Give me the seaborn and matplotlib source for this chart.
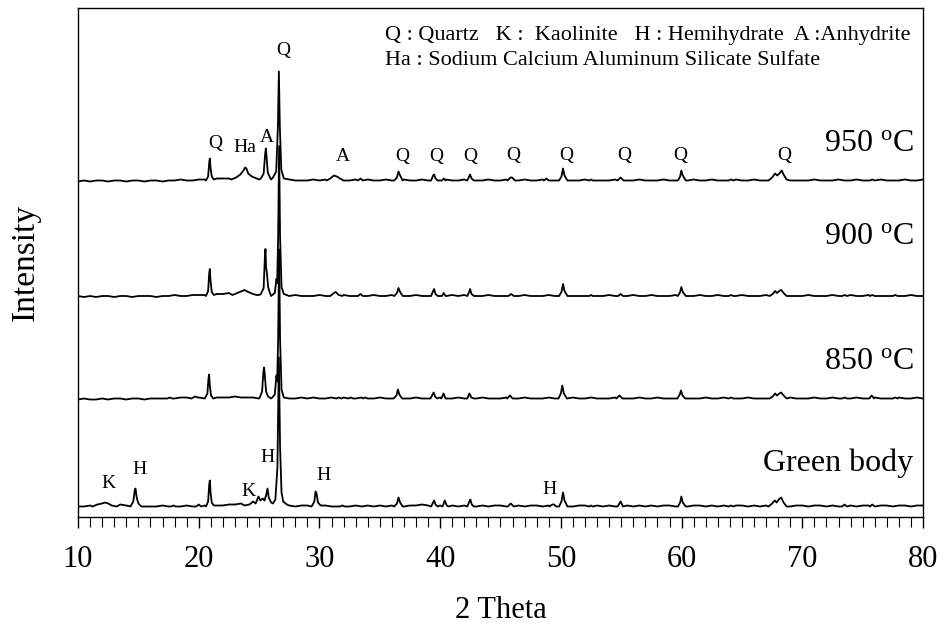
import numpy as np
import pandas as pd
import seaborn as sns
import matplotlib
matplotlib.use("Agg")
import matplotlib.pyplot as plt
from matplotlib.ticker import MultipleLocator

# ---------------------------------------------------------------
# XRD patterns (2-theta in degrees, intensity in arbitrary counts)
# Background level sampled every 0.5 deg from 10 to 80 deg
# ---------------------------------------------------------------
grid_step = 0.5
grid_start = 10.0

bg_950 = [0, 1, 0, 1, 1, 0, 1, 1, 0, 1, 1, 0, 1, 1, 0, 1, 1, 2, 1, 1,
          2, 2, 2, 3, 3, 3, 4, 4, 3, 3, 2, 2, 2, 2, 1, 2, 1, 1, 1, 2,
          1, 2, 1, 1, 2, 1, 2, 1, 2, 1, 1, 2, 1, 1, 2, 1, 1, 2, 1, 1,
          1, 2, 1, 1, 2, 1, 1, 1, 2, 1, 1, 2, 1, 1, 2, 1, 1, 2, 2, 1,
          1, 2, 1, 1, 2, 1, 1, 1, 1, 2, 1, 1, 1, 2, 1, 1, 1, 2, 1, 1,
          1, 1, 2, 1, 1, 2, 1, 1, 1, 2, 1, 1, 2, 1, 1, 2, 1, 1, 1, 1,
          1, 1, 2, 1, 1, 1, 2, 1, 1, 2, 1, 1, 1, 2, 1, 1, 1, 2, 1, 1, 2]

bg_900 = [1, 0, 1, 0, 1, 1, 0, 1, 1, 0, 1, 1, 1, 0, 1, 1, 2, 1, 1, 2,
          2, 2, 2, 3, 3, 4, 4, 4, 3, 3, 2, 2, 1, 2, 1, 1, 2, 1, 1, 1,
          2, 1, 1, 1, 2, 1, 1, 2, 1, 2, 1, 1, 2, 1, 1, 1, 2, 1, 1, 2,
          1, 1, 2, 1, 2, 1, 1, 1, 2, 1, 1, 1, 2, 1, 2, 1, 1, 1, 2, 1,
          1, 2, 1, 1, 1, 2, 1, 1, 2, 1, 1, 1, 2, 1, 1, 2, 1, 1, 1, 2,
          1, 1, 1, 2, 1, 1, 2, 1, 1, 1, 2, 1, 1, 1, 2, 1, 1, 2, 1, 1,
          1, 2, 1, 1, 1, 2, 1, 1, 2, 1, 1, 2, 1, 1, 1, 2, 1, 1, 2, 1, 1]

bg_850 = [0, 1, 0, 0, 1, 0, 1, 1, 0, 1, 1, 0, 1, 1, 1, 2, 1, 2, 2, 2,
          2, 1, 2, 2, 2, 2, 3, 2, 2, 2, 1, 2, 1, 1, 2, 1, 1, 2, 1, 2,
          1, 1, 2, 1, 2, 2, 1, 2, 1, 1, 2, 1, 1, 2, 1, 1, 2, 1, 1, 1,
          2, 1, 1, 2, 1, 1, 1, 2, 1, 1, 1, 2, 1, 1, 2, 1, 1, 1, 2, 1,
          1, 1, 2, 1, 1, 2, 1, 1, 1, 2, 1, 1, 1, 2, 1, 1, 2, 1, 1, 1,
          2, 1, 1, 1, 2, 1, 1, 2, 1, 1, 1, 2, 1, 1, 1, 2, 1, 1, 2, 1,
          1, 1, 2, 1, 1, 2, 1, 1, 1, 2, 1, 1, 2, 1, 1, 1, 2, 1, 1, 2, 1]

bg_green = [1, 1, 2, 1, 2, 2, 2, 3, 2, 2, 2, 1, 1, 1, 2, 1, 1, 1, 2, 1,
            1, 2, 2, 2, 2, 3, 3, 4, 4, 4, 3, 3, 2, 2, 2, 2, 1, 2, 2, 1,
            1, 2, 1, 1, 2, 1, 2, 1, 2, 1, 2, 1, 2, 2, 1, 2, 2, 3, 2, 2,
            2, 1, 2, 1, 2, 2, 1, 2, 1, 2, 2, 1, 2, 2, 1, 2, 2, 1, 2, 2,
            1, 2, 1, 2, 2, 1, 2, 1, 2, 1, 2, 2, 1, 2, 1, 2, 1, 2, 2, 1,
            2, 1, 2, 2, 1, 2, 1, 2, 1, 2, 2, 1, 2, 1, 2, 2, 1, 2, 1, 2,
            2, 1, 2, 2, 1, 2, 1, 2, 2, 1, 2, 2, 1, 2, 2, 1, 2, 2, 1, 2, 2]

# Reflection profiles: each run is a list of (2-theta, counts) points
peaks_950 = [
    [(20.6, 1), (20.78, 5), (20.87, 19), (20.92, 23), (20.98, 14), (21.08, 5), (21.25, 2)],
    [(22.7, 2), (23.1, 4), (23.45, 7), (23.7, 11), (23.85, 14), (23.95, 13), (24.1, 8), (24.4, 5), (24.8, 3)],
    [(25.15, 3), (25.38, 8), (25.5, 27), (25.56, 33), (25.62, 25), (25.72, 9), (25.9, 4)],
    [(26.15, 4), (26.42, 10), (26.56, 55), (26.64, 110), (26.72, 55), (26.84, 12), (27.05, 3)],
    [(30.6, 1), (30.9, 3), (31.2, 6), (31.45, 5), (31.7, 3), (32.0, 1)],
    [(33.2, 1), (33.4, 3), (33.6, 1)],
    [(36.2, 1), (36.42, 4), (36.55, 10), (36.68, 6), (36.9, 1)],
    [(39.25, 1), (39.42, 6), (39.5, 7), (39.62, 3), (39.8, 1)],
    [(40.15, 1), (40.3, 3), (40.45, 1)],
    [(42.25, 1), (42.4, 5), (42.48, 7), (42.6, 3), (42.8, 1)],
    [(45.6, 1), (45.82, 4), (45.95, 4), (46.2, 1)],
    [(48.6, 1), (48.8, 3), (49.0, 1)],
    [(49.85, 1), (50.05, 5), (50.18, 13), (50.3, 6), (50.55, 1)],
    [(52.35, 1), (52.5, 2), (52.65, 1)],
    [(54.7, 1), (54.95, 4), (55.2, 1)],
    [(59.7, 1), (59.88, 5), (59.98, 11), (60.1, 6), (60.35, 1)],
    [(63.9, 1), (64.1, 2), (64.3, 1)],
    [(67.2, 1), (67.5, 4), (67.75, 8), (67.92, 6), (68.1, 8), (68.3, 11), (68.45, 7), (68.7, 2), (69.0, 1)],
    [(75.6, 1), (75.8, 2), (76.0, 1)],
]

peaks_900 = [
    [(20.6, 1), (20.78, 6), (20.87, 24), (20.92, 28), (20.98, 16), (21.08, 5), (21.25, 2)],
    [(22.8, 2), (23.2, 4), (23.6, 6), (23.8, 7), (24.1, 5), (24.5, 3), (24.8, 2)],
    [(25.15, 3), (25.38, 9), (25.48, 40), (25.53, 48), (25.58, 30), (25.65, 24), (25.75, 10), (25.9, 4)],
    [(26.1, 2), (26.3, 4), (26.44, 18), (26.5, 14), (26.58, 60), (26.66, 151), (26.74, 60), (26.86, 10), (27.05, 3)],
    [(30.9, 1), (31.2, 4), (31.35, 5), (31.6, 2), (31.9, 1)],
    [(33.2, 1), (33.4, 3), (33.6, 1)],
    [(36.2, 1), (36.42, 4), (36.55, 9), (36.68, 5), (36.9, 1)],
    [(39.25, 1), (39.42, 6), (39.5, 8), (39.62, 3), (39.8, 1)],
    [(40.15, 1), (40.3, 4), (40.45, 1)],
    [(42.25, 1), (42.4, 5), (42.48, 8), (42.6, 3), (42.8, 1)],
    [(45.65, 1), (45.88, 3), (46.1, 1)],
    [(49.85, 1), (50.05, 5), (50.18, 13), (50.3, 6), (50.55, 1)],
    [(52.35, 1), (52.5, 2), (52.65, 1)],
    [(54.75, 1), (54.95, 3), (55.15, 1)],
    [(59.7, 1), (59.88, 5), (59.98, 10), (60.1, 5), (60.35, 1)],
    [(63.9, 1), (64.1, 2), (64.3, 1)],
    [(67.3, 1), (67.55, 3), (67.75, 6), (67.9, 4), (68.1, 6), (68.25, 7), (68.45, 4), (68.7, 1)],
    [(73.3, 1), (73.5, 2), (73.7, 1)],
    [(75.6, 1), (75.8, 2), (76.0, 1)],
    [(77.5, 1), (77.7, 2), (77.9, 1)],
]

peaks_850 = [
    [(17.4, 1), (17.6, 2), (17.8, 1)],
    [(19.4, 1), (19.7, 3), (19.9, 2)],
    [(20.55, 2), (20.72, 6), (20.81, 21), (20.86, 25), (20.92, 14), (21.02, 4), (21.2, 1)],
    [(25.05, 2), (25.25, 8), (25.36, 28), (25.42, 32), (25.48, 24), (25.58, 8), (25.75, 3)],
    [(26.1, 2), (26.3, 5), (26.44, 24), (26.5, 18), (26.58, 60), (26.66, 150), (26.74, 60), (26.86, 10), (27.05, 2)],
    [(31.4, 1), (31.6, 2), (31.8, 1)],
    [(32.4, 1), (32.6, 2), (32.8, 1)],
    [(33.6, 1), (33.8, 2), (34.0, 1)],
    [(36.15, 1), (36.38, 4), (36.5, 10), (36.62, 5), (36.85, 1)],
    [(39.2, 1), (39.38, 5), (39.46, 7), (39.58, 3), (39.75, 1)],
    [(40.1, 1), (40.28, 6), (40.45, 1)],
    [(42.25, 1), (42.42, 6), (42.58, 2), (42.8, 1)],
    [(45.55, 1), (45.78, 4), (46.0, 1)],
    [(49.8, 1), (50.0, 6), (50.12, 14), (50.25, 6), (50.5, 1)],
    [(54.6, 1), (54.85, 4), (55.1, 1)],
    [(59.65, 1), (59.85, 5), (59.95, 9), (60.08, 4), (60.3, 1)],
    [(63.9, 1), (64.1, 2), (64.3, 1)],
    [(67.3, 1), (67.55, 3), (67.75, 6), (67.9, 4), (68.1, 6), (68.25, 7), (68.45, 4), (68.7, 1)],
    [(73.3, 1), (73.5, 2), (73.7, 1)],
    [(75.55, 1), (75.75, 4), (75.95, 1)],
    [(77.5, 1), (77.7, 2), (77.9, 1)],
]

peaks_green = [
    [(11.2, 1), (11.6, 3), (12.0, 4), (12.25, 5), (12.5, 4), (12.8, 2), (13.2, 1)],
    [(14.35, 1), (14.58, 6), (14.7, 17), (14.76, 19), (14.86, 10), (15.0, 4), (15.25, 1)],
    [(17.7, 1), (17.9, 2), (18.1, 1)],
    [(19.8, 1), (20.0, 3), (20.2, 1)],
    [(20.6, 1), (20.78, 6), (20.87, 23), (20.92, 27), (20.98, 15), (21.08, 5), (21.25, 2)],
    [(23.8, 2), (24.2, 3), (24.5, 6), (24.72, 4), (24.95, 11), (25.1, 7), (25.3, 9), (25.45, 7),
     (25.6, 13), (25.7, 19), (25.8, 10), (26.0, 5), (26.15, 4), (26.35, 8), (26.52, 40),
     (26.64, 150), (26.74, 60), (26.86, 15), (27.0, 6), (27.3, 3)],
    [(29.35, 1), (29.58, 6), (29.68, 16), (29.76, 14), (29.88, 5), (30.1, 2)],
    [(31.7, 1), (31.9, 2), (32.1, 1)],
    [(36.2, 1), (36.42, 4), (36.55, 10), (36.68, 5), (36.9, 1)],
    [(39.25, 1), (39.42, 5), (39.5, 7), (39.62, 3), (39.8, 1)],
    [(40.2, 1), (40.38, 7), (40.55, 2), (40.7, 1)],
    [(42.25, 1), (42.42, 6), (42.5, 8), (42.62, 3), (42.8, 1)],
    [(45.6, 1), (45.85, 4), (46.1, 1)],
    [(49.05, 1), (49.3, 3), (49.45, 3), (49.6, 1)],
    [(49.85, 1), (50.05, 6), (50.18, 15), (50.3, 7), (50.55, 1)],
    [(52.35, 1), (52.5, 2), (52.65, 1)],
    [(54.7, 1), (54.95, 6), (55.15, 1)],
    [(59.7, 1), (59.88, 5), (59.98, 11), (60.1, 5), (60.35, 1)],
    [(63.9, 1), (64.1, 2), (64.3, 1)],
    [(67.2, 1), (67.5, 4), (67.72, 7), (67.88, 5), (68.05, 8), (68.25, 10), (68.45, 5), (68.7, 1)],
    [(73.3, 1), (73.5, 3), (73.7, 1)],
    [(75.6, 1), (75.8, 3), (76.0, 1)],
]

samples = ["Green body", "850 oC", "900 oC", "950 oC"]
sample_labels = ["Green body", "850 $^{\\mathrm{o}}$C", "900 $^{\\mathrm{o}}$C", "950 $^{\\mathrm{o}}$C"]
backgrounds = [bg_green, bg_850, bg_900, bg_950]
reflections = [peaks_green, peaks_850, peaks_900, peaks_950]

# vertical stacking of the patterns
stack_offset = [9.5, 117.5, 220.0, 335.5]
label_height = [54, 156, 281, 374]

# phase markers: (2-theta, height, text)
marks_950 = [(27.0, 467, "Q"), (21.37, 374, "Q"), (23.81, 370, "Ha"), (25.66, 380, "A"),
             (31.96, 361, "A"), (36.9, 361, "Q"), (39.69, 361, "Q"), (42.5, 361, "Q"),
             (46.07, 362, "Q"), (50.43, 362, "Q"), (55.26, 362, "Q"), (59.93, 362, "Q"),
             (68.49, 362, "Q")]
marks_green = [(12.54, 34, "K"), (15.11, 48, "H"), (24.14, 26, "K"), (25.66, 60, "H"),
               (30.36, 42, "H"), (49.1, 28, "H")]

legend_lines = ["Q : Quartz   K :  Kaolinite   H : Hemihydrate  A :Anhydrite",
                "Ha : Sodium Calcium Aluminum Silicate Sulfate"]


def assemble(bg, runs):
    """Merge background samples with reflection profiles."""
    pts = []
    for i, v in enumerate(bg):
        x = grid_start + grid_step * i
        if not any(r[0][0] <= x <= r[-1][0] for r in runs):
            pts.append((x, v))
    for r in runs:
        pts.extend(r)
    pts.sort()
    return pts


rows = []
for name, bg, runs, off in zip(samples, backgrounds, reflections, stack_offset):
    for x, v in assemble(bg, runs):
        rows.append({"two_theta": x, "intensity": v + off, "sample": name})
df = pd.DataFrame(rows)

sns.set_theme(style="ticks")
plt.rcParams["font.family"] = ["Liberation Serif", "DejaVu Serif"]
plt.rcParams["mathtext.fontset"] = "custom"
plt.rcParams["mathtext.rm"] = "Liberation Serif"
plt.rcParams["mathtext.it"] = "Liberation Serif:italic"
plt.rcParams["text.color"] = "black"
plt.rcParams["axes.labelcolor"] = "black"
plt.rcParams["xtick.color"] = "black"

fig = plt.figure(figsize=(9.44, 6.34), dpi=100)
ax = fig.add_axes([78 / 944, 1 - 517 / 634, 845 / 944, 509 / 634])

sns.lineplot(data=df, x="two_theta", y="intensity", hue="sample",
             palette=["black"] * 4, estimator=None, sort=False,
             legend=False, linewidth=1.3, ax=ax)

ax.set_xlim(10, 80)
ax.set_ylim(0, 509)
ax.set_yticks([])
ax.xaxis.set_major_locator(MultipleLocator(10))
ax.xaxis.set_minor_locator(MultipleLocator(1))
ax.tick_params(axis="x", which="major", direction="out", length=8, width=1.0,
               labelsize=22, pad=12, colors="black")
ax.tick_params(axis="x", which="minor", direction="out", length=7, width=0.8,
               colors="black")
for s in ax.spines.values():
    s.set_color("black")
    s.set_linewidth(1.0)

ax.set_xlabel("2 Theta", fontsize=22, labelpad=16, color="black")
ax.set_ylabel("Intensity", fontsize=24, labelpad=27, color="black")

for lab, yl in zip(sample_labels, label_height):
    ax.text(79.2, yl, lab, fontsize=23, ha="right", va="center", color="black")

for x, y, t in marks_950 + marks_green:
    ax.text(x, y, t, fontsize=14, ha="center", va="center", color="black")

ax.text(35.43, 482, legend_lines[0], fontsize=16, ha="left", va="center", color="black")
ax.text(35.43, 457, legend_lines[1], fontsize=16, ha="left", va="center", color="black")

fig.savefig("out.png", dpi=100)
